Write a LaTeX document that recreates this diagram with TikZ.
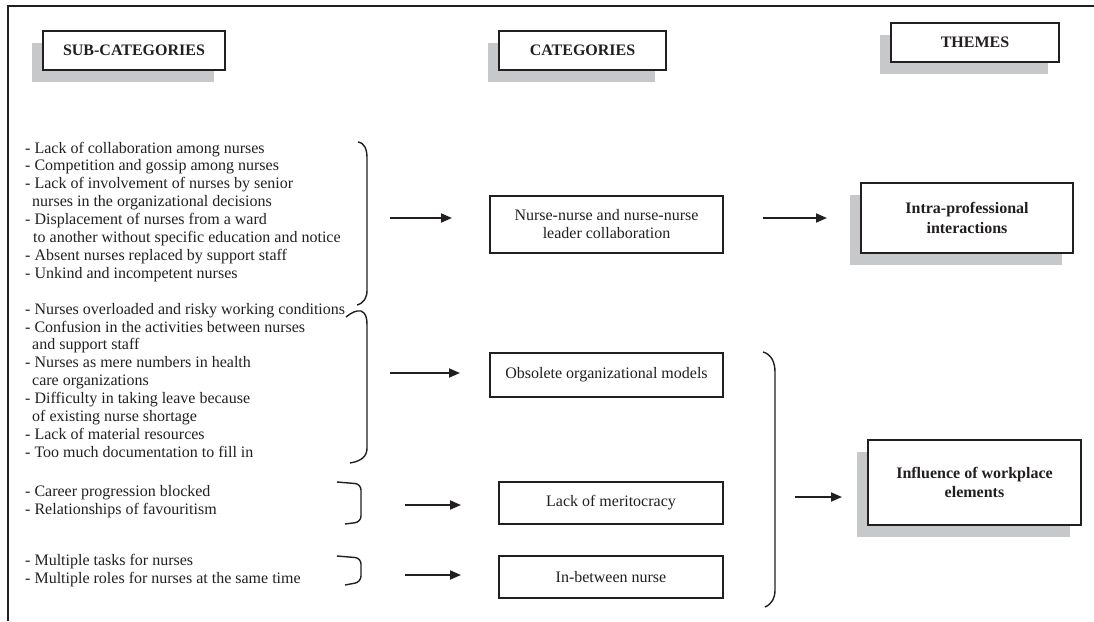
\documentclass[tikz,border=0pt]{standalone}
\usepackage{fontspec}
\setmainfont{Liberation Serif}
\usetikzlibrary{arrows.meta,shadows}
\definecolor{ink}{RGB}{35,31,32}
\definecolor{shadowgray}{RGB}{199,200,202}
\begin{document}
\begin{tikzpicture}[x=1pt,y=-1pt,
  box/.style={draw=ink,line width=1.3pt,fill=white,inner sep=2pt,align=center,text=ink,font=\fontsize{16}{18}\selectfont},
  hbox/.style={box,font=\fontsize{16}{19.5}\selectfont\bfseries},
  sh/.style={drop shadow={shadow xshift=-11pt,shadow yshift=-12pt,fill=shadowgray,opacity=1}},
  item/.style={anchor=base west,inner sep=0pt,text=ink,font=\fontsize{16}{18}\selectfont},
  arr/.style={draw=ink,line width=1.8pt,-{Triangle[length=11pt,width=9pt]}},
  brk/.style={draw=ink,line width=1.4pt},
]
\useasboundingbox (0,0) rectangle (1094,621);
\draw[ink,line width=2.6pt] (8,621) -- (8,6) -- (1094,6);

% headers
\node[hbox,sh,minimum width=182pt,minimum height=39pt] (sub) at (134,50.5) {SUB-CATEGORIES};
\node[hbox,sh,minimum width=167pt,minimum height=39pt] (cat) at (582.5,50.5) {CATEGORIES};
\node[hbox,sh,minimum width=168pt,minimum height=39pt] (thm) at (975,42.5) {THEMES};

% sub-categories
\foreach \n/\y/\x/\t in {
  0/153/25/{- Lack of collaboration among nurses},
  1/170.9/25/{- Competition and gossip among nurses},
  2/188.8/25/{- Lack of involvement of nurses by senior},
  3/206.7/32/{nurses in the organizational decisions},
  4/224.6/25/{- Displacement of nurses from a ward},
  5/242.5/33/{to another without specific education and notice},
  6/260.4/25/{- Absent nurses replaced by support staff},
  7/278.3/25/{- Unkind and incompetent nurses},
  9/314.1/25/{- Nurses overloaded and risky working conditions},
  10/332/25/{- Confusion in the activities between nurses},
  11/349.9/32/{and support staff},
  12/367.8/25/{- Nurses as mere numbers in health},
  13/385.7/32/{care organizations},
  14/403.6/25/{- Difficulty in taking leave because},
  15/421.5/32/{of existing nurse shortage},
  16/439.4/25/{- Lack of material resources},
  17/457.3/25/{- Too much documentation to fill in},
  18/496/25/{- Career progression blocked},
  19/514/25/{- Relationships of favouritism},
  20/565/25/{- Multiple tasks for nurses},
  21/583/25/{- Multiple roles for nurses at the same time}}
  \node[item] (s\n) at (\x,\y) {\t};

% brackets
\draw[brk] (358,142) .. controls (365,143) and (367,150) .. (367,158) -- (367,290) .. controls (367,298) and (364,303) .. (357,305);
\draw[brk] (346,317) .. controls (351,313) and (356,310) .. (361,311) .. controls (366,313) and (367,318) .. (367,325) -- (367,448) .. controls (367,456) and (362,461) .. (350,463);
\draw[brk,rounded corners=6pt] (337,482) -- (361,484) -- (361,522) -- (345,524);
\draw[brk,rounded corners=6pt] (337,556) -- (361,558) -- (361,582) -- (345,585);
\draw[brk] (763,352) .. controls (771,354) and (775,362) .. (775,372) -- (775,590) .. controls (775,598) and (772,604) .. (765,607);

% categories
\node[box,minimum width=233pt,minimum height=57pt] (nn) at (606.5,224.5) {Nurse-nurse and nurse-nurse\\leader collaboration};
\node[box,minimum width=233pt,minimum height=44pt] (obs) at (606.5,375) {Obsolete organizational models};
\node[box,minimum width=224pt,minimum height=42pt] (mer) at (611,503) {Lack of meritocracy};
\node[box,minimum width=224pt,minimum height=42pt] (inb) at (611,577) {In-between nurse};

% themes
\node[hbox,sh,minimum width=212pt,minimum height=70pt,font=\fontsize{16}{20}\selectfont\bfseries] (intra) at (967,218) {Intra-professional\\interactions};
\node[hbox,sh,minimum width=213pt,minimum height=85pt,font=\fontsize{16}{19}\selectfont\bfseries] (infl) at (974.5,482.5) {Influence of workplace\\elements};

% arrows
\coordinate (a1s) at (390,218); \coordinate (a1e) at (452,218);
\coordinate (a2s) at (390,373); \coordinate (a2e) at (460,373);
\coordinate (a3s) at (405,505); \coordinate (a3e) at (461,505);
\coordinate (a4s) at (405,575); \coordinate (a4e) at (461,575);
\coordinate (a5s) at (763,218); \coordinate (a5e) at (827,218);
\coordinate (a6s) at (795,497); \coordinate (a6e) at (842,497);
\draw[arr] (a1s) -- (a1e);
\draw[arr] (a2s) -- (a2e);
\draw[arr] (a3s) -- (a3e);
\draw[arr] (a4s) -- (a4e);
\draw[arr] (a5s) -- (a5e);
\draw[arr] (a6s) -- (a6e);
\end{tikzpicture}
\end{document}
